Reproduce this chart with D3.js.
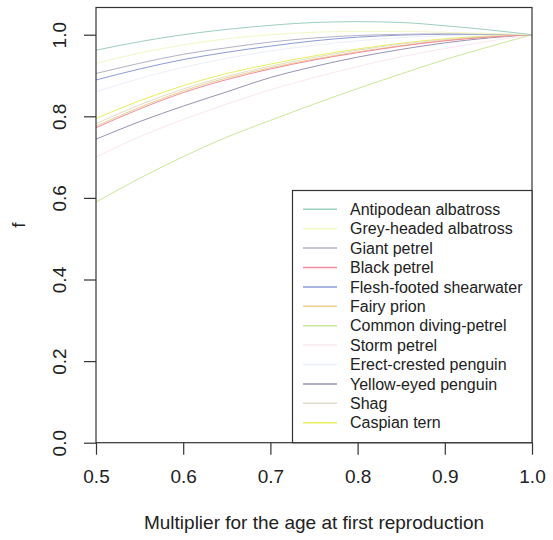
<!DOCTYPE html>
<html>
<head>
<meta charset="utf-8">
<script src="https://cdn.jsdelivr.net/npm/d3@7"></script>
<style>
  body { margin: 0; background: #fff; }
  svg { display: block; }
  text { font-family: "Liberation Sans", Arial, Helvetica, sans-serif; }
</style>
</head>
<body>
<svg id="chart" width="553" height="540"></svg>
<script>
// ---- data ----
const xValues = [0.5, 0.55, 0.6, 0.65, 0.7, 0.75, 0.8, 0.85, 0.9, 0.95, 1.0];

const species = [
  "Antipodean albatross", "Grey-headed albatross", "Giant petrel", "Black petrel",
  "Flesh-footed shearwater", "Fairy prion", "Common diving-petrel", "Storm petrel",
  "Erect-crested penguin", "Yellow-eyed penguin", "Shag", "Caspian tern"
];

const speciesColors = [
  "#9ccfc0", "#f2f7c4", "#b2b2c6", "#f08c9e",
  "#8c9cd6", "#ecd08c", "#cbe79c", "#fbe6f0",
  "#eceffb", "#9a92b2", "#e0ddcc", "#e8ef5e"
];

const antipodeanAlbatross   = [0.962, 0.983, 1.000, 1.013, 1.023, 1.030, 1.032, 1.030, 1.022, 1.012, 1.0];
const greyHeadedAlbatross   = [0.930, 0.955, 0.975, 0.990, 1.000, 1.006, 1.008, 1.008, 1.006, 1.003, 1.0];
const giantPetrel           = [0.905, 0.930, 0.952, 0.968, 0.982, 0.992, 0.998, 1.001, 1.002, 1.001, 1.0];
const blackPetrel           = [0.772, 0.818, 0.858, 0.890, 0.916, 0.938, 0.956, 0.972, 0.985, 0.994, 1.0];
const fleshFootedShearwater = [0.889, 0.916, 0.939, 0.957, 0.972, 0.985, 0.994, 0.999, 1.001, 1.001, 1.0];
const fairyPrion            = [0.776, 0.822, 0.862, 0.894, 0.919, 0.940, 0.958, 0.973, 0.986, 0.995, 1.0];
const commonDivingPetrel    = [0.590, 0.648, 0.701, 0.749, 0.790, 0.830, 0.868, 0.904, 0.939, 0.970, 1.0];
const stormPetrel           = [0.700, 0.750, 0.792, 0.830, 0.865, 0.895, 0.922, 0.946, 0.966, 0.984, 1.0];
const erectCrestedPenguin   = [0.860, 0.893, 0.920, 0.942, 0.960, 0.974, 0.985, 0.993, 0.998, 1.000, 1.0];
const yellowEyedPenguin     = [0.744, 0.787, 0.825, 0.860, 0.895, 0.922, 0.945, 0.964, 0.980, 0.992, 1.0];
const shag                  = [0.782, 0.828, 0.867, 0.898, 0.923, 0.944, 0.962, 0.977, 0.988, 0.996, 1.0];
const caspianTern           = [0.795, 0.838, 0.875, 0.905, 0.928, 0.948, 0.965, 0.979, 0.990, 0.997, 1.0];

const seriesValues = [
  antipodeanAlbatross, greyHeadedAlbatross, giantPetrel, blackPetrel,
  fleshFootedShearwater, fairyPrion, commonDivingPetrel, stormPetrel,
  erectCrestedPenguin, yellowEyedPenguin, shag, caspianTern
];

const xTicks = [0.5, 0.6, 0.7, 0.8, 0.9, 1.0];
const yTicks = [0.0, 0.2, 0.4, 0.6, 0.8, 1.0];
const xLabel = "Multiplier for the age at first reproduction";
const yLabel = "f";

// ---- layout ----
const plotLeft = 96, plotRight = 532, plotTop = 7.5, plotBottom = 442.7;
const svg = d3.select("#chart");

const x = d3.scaleLinear().domain([0.5, 1.0]).range([plotLeft, plotRight]);
const y = d3.scaleLinear().domain([0, 1.0667]).range([plotBottom, plotTop]);

// curves (drawn in reverse so the first species is on top)
const line = d3.line().x(d => x(d[0])).y(d => y(d[1])).curve(d3.curveMonotoneX);
const drawOrder = d3.range(species.length).reverse();
svg.append("g")
  .selectAll("path")
  .data(drawOrder)
  .join("path")
  .attr("fill", "none")
  .attr("stroke", i => speciesColors[i])
  .attr("stroke-width", 1)
  .attr("d", i => line(xValues.map((xv, k) => [xv, seriesValues[i][k]])));

// box
svg.append("rect")
  .attr("x", plotLeft).attr("y", plotTop)
  .attr("width", plotRight - plotLeft).attr("height", plotBottom - plotTop)
  .attr("fill", "none").attr("stroke", "#333").attr("stroke-width", 1.2);

// x axis
const gx = svg.append("g").attr("transform", `translate(0,${plotBottom})`)
  .call(d3.axisBottom(x).tickValues(xTicks).tickSize(12).tickFormat(d3.format(".1f")));
gx.select(".domain").remove();
gx.selectAll("line").attr("stroke", "#333").attr("stroke-width", 1.2);
gx.selectAll("text")
  .attr("y", 40).attr("dy", 0)
  .attr("fill", "#222").style("font-size", "19px");

// y axis
const gy = svg.append("g").attr("transform", `translate(${plotLeft},0)`)
  .call(d3.axisLeft(y).tickValues(yTicks).tickSize(12).tickFormat(d3.format(".1f")));
gy.select(".domain").remove();
gy.selectAll("line").attr("stroke", "#333").attr("stroke-width", 1.2);
gy.selectAll("text")
  .attr("x", null).attr("dy", null)
  .attr("text-anchor", "middle")
  .attr("transform", "translate(-30,0) rotate(-90)")
  .attr("fill", "#222").style("font-size", "19px");

// axis titles
svg.append("text")
  .attr("x", (plotLeft + plotRight) / 2).attr("y", 529)
  .attr("text-anchor", "middle").attr("fill", "#222")
  .style("font-size", "19px").text(xLabel);
svg.append("text")
  .attr("transform", `translate(25,${(plotTop + plotBottom) / 2}) rotate(-90)`)
  .attr("text-anchor", "middle").attr("fill", "#222")
  .style("font-size", "19px").text(yLabel);

// legend
const legTop = 190.5, legLeft = 292.5, step = 19.4, firstY = 209.3;
svg.append("rect")
  .attr("x", legLeft).attr("y", legTop)
  .attr("width", plotRight - legLeft).attr("height", plotBottom - legTop)
  .attr("fill", "#fff").attr("stroke", "#333").attr("stroke-width", 1.2);
const leg = svg.append("g").selectAll("g").data(species).join("g")
  .attr("transform", (d, i) => `translate(0,${firstY + i * step})`);
leg.append("line")
  .attr("x1", 303).attr("x2", 337)
  .attr("stroke", (d, i) => speciesColors[i]).attr("stroke-width", 1.5);
leg.append("text")
  .attr("x", 350).attr("dy", "0.36em")
  .attr("fill", "#222").style("font-size", "16px")
  .text(d => d);
</script>
</body>
</html>
